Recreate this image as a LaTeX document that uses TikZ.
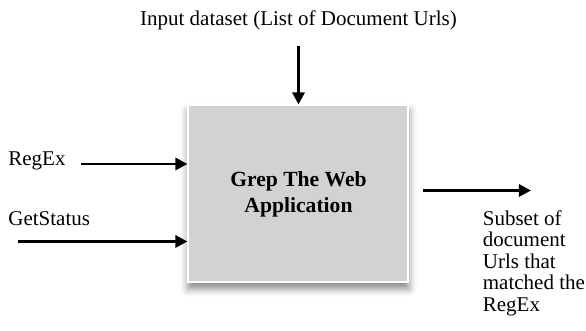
\documentclass[tikz,border=0pt]{standalone}
\usepackage{fontspec}
\setmainfont{Liberation Serif}
\usetikzlibrary{arrows.meta,positioning,shadows.blur}

\definecolor{appgray}{RGB}{209,210,212}

\begin{document}
\begin{tikzpicture}[
    x=0.5pt, y=-0.5pt,
    font=\fontsize{10.5}{10.8}\selectfont,
    label/.style={inner sep=0pt, align=left},
    process/.style={rectangle, draw=white, line width=1pt, fill=appgray, minimum width=110pt, minimum height=88.5pt, align=center, font=\fontsize{10.8}{12.9}\selectfont\bfseries, blur shadow={shadow xshift=0pt, shadow yshift=-3pt, shadow blur radius=4pt, shadow opacity=50}},
    flow/.style={-{Triangle[length=6pt,width=6pt]}, line width=1.4pt}
]
    \useasboundingbox (0,0) rectangle (586,331);

    % Process
    \node[process] (app) at (298.5,194) {Grep The Web\\Application};

    % Inputs
    \node[label, anchor=base] (input) at (298.5,26) {Input dataset (List of Document Urls)};
    \node[label, anchor=base west] (regex) at (8,165.5) {RegEx};
    \node[label, anchor=base west] (status) at (8,225.5) {GetStatus};

    % Output
    \node[label, anchor=north west] (subset) at (482.5,210) {Subset of\\document\\Urls that\\matched the\\RegEx};

    % Connectors
    \coordinate (input_end) at (298.5,46);
    \coordinate (regex_end) at (81,164);
    \coordinate (status_end) at (18,241.5);
    \coordinate (subset_end) at (531,190.5);
    \draw[flow] (input_end) -- (app.north);
    \draw[flow] (regex_end) -- (regex_end -| app.west);
    \draw[flow] (status_end) -- (status_end -| app.west);
    \draw[flow] (subset_end -| app.east) ++(14,0) -- (subset_end);
\end{tikzpicture}
\end{document}
